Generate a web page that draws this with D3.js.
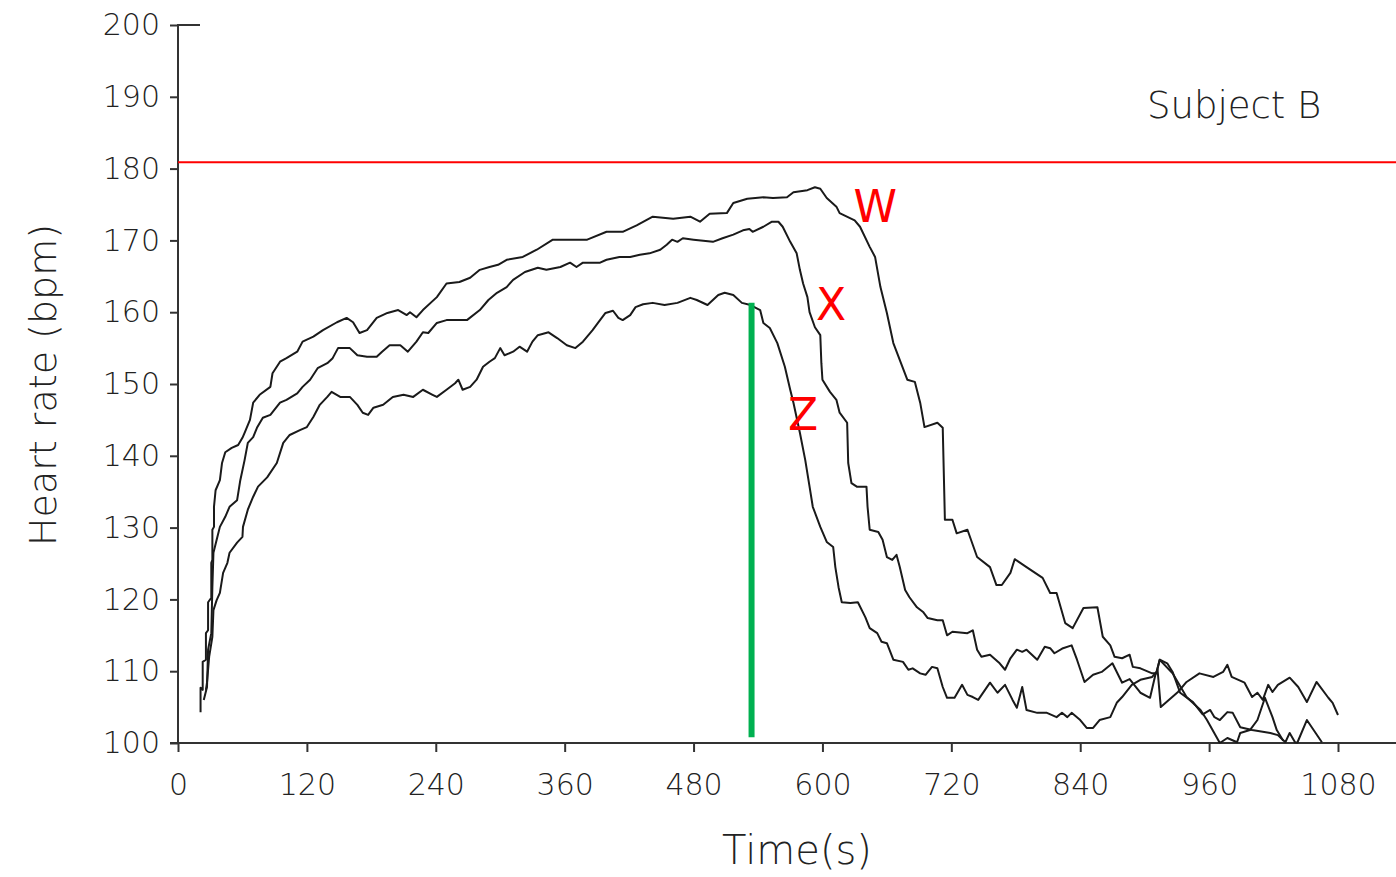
<!DOCTYPE html>
<html><head><meta charset="utf-8">
<script src="https://cdn.jsdelivr.net/npm/d3@7"></script>
<style>
html,body{margin:0;padding:0;background:#fff;}
svg{display:block;}
text{font-family:"DejaVu Sans",sans-serif;fill:#222;}
</style></head>
<body>
<svg id="chart" width="1396" height="877"></svg>
<script>
// ---- data (time s, heart rate bpm) ----
const xTicks = [0,120,240,360,480,600,720,840,960,1080];
const yTicks = [100,110,120,130,140,150,160,170,180,190,200];
const maxHR = 180.9;
const stopTime = 534, stopHR = 161.3, stopLow = 100.8;
const seriesNames = ["W","X","Z"];

const seriesW = [[21,104.3],[21,107.7],[23,107.4],[23,111.3],[26,111.6],[26,115.3],[28,115.7],[28,119.6],[31,120.2],[31,125.1],[32,125.5],[32,129.7],[33.5,130.1],[33.5,132.9],[35,135.2],[39,136.6],[41,139.0],[44,140.5],[50,141.1],[56,141.5],[60,142.5],[62,143.2],[67,145.0],[70,147.4],[76,148.5],[86,149.6],[88,151.5],[95,153.1],[101,153.6],[111,154.5],[116,155.9],[126,156.6],[135,157.5],[148,158.6],[157,159.2],[163,158.6],[169,157.1],[176,157.5],[185,159.2],[195,159.9],[205,160.3],[213,159.6],[216,160.0],[222,159.3],[228,160.3],[241,162.1],[250,164.0],[262,164.2],[272,164.8],[281,165.9],[290,166.3],[298,166.6],[306,167.3],[321,167.7],[334,168.7],[349,170.1],[381,170.1],[399,171.2],[414,171.2],[427,172.1],[442,173.3],[461,173.0],[477,173.3],[486,172.6],[495,173.7],[511,173.8],[517,175.2],[530,175.8],[545,176.0],[554,175.9],[567,176.0],[573,176.7],[586,177.0],[593,177.4],[598,177.2],[604,175.9],[613,174.7],[616,173.8],[630,172.8],[635,171.9],[644,169.1],[649,167.7],[654,163.5],[660,159.9],[666,155.7],[679,150.6],[686,150.3],[691,147.4],[695,144.0],[707,144.6],[712,143.9],[714,131.1],[721,131.1],[725,129.2],[735,129.7],[744,125.9],[756,124.5],[762,122.0],[767,122.0],[775,123.7],[779,125.6],[790,124.5],[805,123.0],[812,120.9],[818,120.9],[826,116.7],[833,116.0],[843,118.8],[856,118.9],[861,114.8],[868,113.6],[872,112.0],[879,111.8],[886,112.3],[889,110.6],[896,110.4],[907,109.7],[911,109.7],[914,111.6],[921,111.1],[926,109.9],[933,107.0],[945,105.7],[954,104.0],[961,104.6],[965,103.6],[970,103.2],[977,104.3],[982,104.2],[989,102.2],[1000,101.8],[1017,101.4],[1024,101.1],[1031,100.1],[1035,101.4],[1040,100.1],[1042,100.0],[1051,103.2],[1065,100.1]];

const seriesX = [[24,106.0],[27,107.8],[28,113.0],[31,115.3],[32,121.7],[33,126.5],[36,128.3],[39,130.1],[44,131.5],[48,132.9],[55,133.8],[58,136.6],[62,139.4],[65,141.8],[70,142.6],[73.5,143.9],[79,145.3],[86,145.7],[95,147.4],[101,147.8],[111,148.7],[116,149.6],[123,150.6],[130,152.2],[139,152.9],[144,153.6],[149,155.0],[160,155.0],[167,154.0],[176,153.8],[185,153.8],[190,154.5],[197,155.4],[207,155.4],[214,154.5],[222,155.9],[228,157.2],[233,157.1],[241,158.5],[250,158.9],[269,158.9],[281,160.3],[289,161.7],[297,162.7],[306,163.5],[312,164.5],[323,165.6],[335,166.2],[343,165.9],[356,166.3],[365,166.9],[371,166.3],[377,166.9],[393,166.9],[399,167.3],[411,167.7],[421,167.7],[430,168.0],[439,168.2],[449,168.7],[455,169.4],[460,170.1],[465,169.8],[470,170.3],[480,170.1],[498,169.8],[507,170.3],[517,170.8],[526,171.4],[532,171.6],[535,171.2],[545,171.9],[553,172.6],[559,172.6],[563,171.9],[570,169.8],[576,168.2],[579,165.9],[582,164.0],[586,162.1],[588,160.0],[593,157.9],[598,156.8],[599,152.9],[600,150.6],[607,148.9],[613,147.8],[616,146.0],[623,144.6],[624,139.0],[627,136.2],[632,135.7],[641,135.7],[642,132.9],[644,129.7],[652,129.4],[656,128.3],[660,125.9],[665,125.5],[669,126.2],[672,124.5],[677,121.3],[681,120.3],[688,118.9],[694,118.2],[698,117.4],[707,117.1],[712,117.1],[716,115.0],[721,115.5],[735,115.3],[740,115.7],[744,113.0],[748,112.0],[756,112.3],[765,111.1],[770,110.2],[775,111.8],[781,113.0],[786,112.7],[790,113.0],[800,111.6],[807,113.4],[812,113.2],[816,112.5],[824,113.2],[832,113.6],[837,111.6],[844,108.5],[852,109.5],[860,109.9],[870,111.1],[879,108.4],[886,108.9],[896,107.0],[905,106.3],[910,109.5],[912,110.2],[915,105.0],[931,107.1],[939,108.5],[951,109.7],[964,109.2],[973,109.9],[977,110.9],[981,109.2],[993,108.4],[1000,106.4],[1005,107.0],[1010,106.0],[1015,108.1],[1019,107.1],[1024,108.1],[1035,109.1],[1043,107.8],[1051,105.7],[1060,108.5],[1071,106.3],[1075,105.6],[1080,103.9]];

const seriesZ = [[26,107.4],[27,108.4],[29,112.0],[32,114.8],[33,118.5],[36,119.9],[39,120.9],[42,123.7],[46,125.1],[48,126.5],[55,127.9],[60,128.7],[60.5,130.1],[65,132.5],[70,134.3],[74.5,135.7],[83,137.0],[92,139.0],[98,141.8],[104,142.9],[114,143.6],[120,144.0],[126,145.4],[132,147.1],[139,148.2],[143,148.9],[151,148.2],[160,148.2],[167,147.1],[172,146.0],[177,145.7],[182,146.7],[191,147.1],[200,148.2],[210,148.5],[219,148.2],[228,149.2],[237,148.5],[241,148.2],[250,149.2],[258,150.1],[261,150.6],[265,149.2],[272,149.6],[278,150.6],[284,152.4],[290,153.1],[295,153.6],[300,155.0],[304,154.0],[312,154.5],[318,155.2],[325,154.5],[330,155.9],[335,156.8],[345,157.2],[353,156.4],[362,155.4],[370,155.0],[377,155.9],[386,157.5],[391,158.5],[398,159.9],[405,160.2],[410,159.2],[414,158.9],[421,159.6],[426,160.7],[433,161.1],[442,161.3],[453,161.0],[465,161.3],[477,162.0],[483,161.7],[493,161.0],[498,161.7],[503,162.4],[509,162.7],[517,162.4],[525,161.3],[533,161.0],[542,160.3],[545,158.5],[551,157.8],[558,155.7],[565,152.4],[570,149.2],[573,147.4],[579,143.2],[584,139.4],[588,135.7],[591,132.9],[598,130.1],[604,128.0],[610,127.3],[612,124.5],[615,121.7],[618,119.6],[626,119.5],[633,119.6],[640,117.5],[644,116.0],[651,115.3],[655,114.1],[660,113.9],[666,111.6],[675,111.3],[680,110.2],[684,110.4],[691,109.7],[696,109.5],[702,110.6],[707,110.4],[712,107.8],[716,106.3],[723,106.3],[730,108.1],[735,106.7],[740,106.4],[745,106.0],[756,108.4],[763,107.0],[770,108.1],[777,106.0],[781,104.9],[786,107.8],[790,104.6],[800,104.2],[809,104.2],[818,103.6],[823,104.2],[828,103.6],[832,104.2],[840,103.2],[846,102.1],[852,102.1],[858,103.2],[868,103.6],[874,105.6],[879,106.4],[888,108.1],[896,108.8],[907,109.2],[911,109.9],[914,111.6],[926,109.7],[939,106.4],[952,104.6],[958,103.2],[970,100.0],[977,100.7],[986,100.1],[989,101.4],[998,101.8],[1005,103.2],[1012,106.3],[1019,103.6],[1023,101.8],[1029,100.3]];

const labels = [
  {name:"W", t:629, hr:172.6},
  {name:"X", t:594, hr:158.9},
  {name:"Z", t:568, hr:143.6}
];

// ---- drawing ----
const svg = d3.select("#chart");
const x = d3.scaleLinear().domain([0,1080]).range([178,1338]);
const y = d3.scaleLinear().domain([100,200]).range([743,25]);
const axisColor = "#333";

// clip
svg.append("defs").append("clipPath").attr("id","plot")
  .append("rect").attr("x",178).attr("y",25).attr("width",1396-178).attr("height",743-25+0.5);

// y axis
const yAxis = d3.axisLeft(y).tickValues(yTicks).tickSize(8).tickPadding(10).tickFormat(d3.format("d"));
const gy = svg.append("g").attr("transform","translate(178,0)").call(yAxis);
gy.select(".domain").remove();
gy.selectAll(".tick line").attr("stroke",axisColor).attr("stroke-width",2);
gy.selectAll(".tick text").attr("font-size",30).attr("font-weight",200)
  .attr("fill","#222").attr("font-family","DejaVu Sans").attr("x",-18);
svg.append("line").attr("x1",178).attr("x2",178).attr("y1",y(200)-1).attr("y2",y(100))
  .attr("stroke",axisColor).attr("stroke-width",2);
svg.append("line").attr("x1",178).attr("x2",200).attr("y1",y(200)).attr("y2",y(200))
  .attr("stroke",axisColor).attr("stroke-width",2);

// x axis
const xAxis = d3.axisBottom(x).tickValues(xTicks).tickSize(9).tickPadding(10).tickFormat(d3.format("d"));
const gx = svg.append("g").attr("transform","translate(0,743)").call(xAxis);
gx.select(".domain").remove();
gx.selectAll(".tick line").attr("stroke",axisColor).attr("stroke-width",2);
gx.selectAll(".tick text").attr("font-size",30).attr("font-weight",200)
  .attr("fill","#222").attr("font-family","DejaVu Sans").attr("dy","0.71em").attr("y",31);
svg.append("line").attr("x1",170).attr("x2",1396).attr("y1",743).attr("y2",743)
  .attr("stroke",axisColor).attr("stroke-width",2);

// axis titles
svg.append("text").attr("transform",`translate(56,${385}) rotate(-90)`)
  .attr("text-anchor","middle").attr("font-size",38).attr("font-weight",200)
  .text("Heart rate (bpm)");
svg.append("text").attr("x",797).attr("y",864).attr("text-anchor","middle")
  .attr("font-size",40).attr("font-weight",200).text("Time(s)");
svg.append("text").attr("x",1147).attr("y",118).attr("font-size",37).attr("font-weight",200)
  .text("Subject B");

// max HR line
svg.append("line").attr("x1",x(0)).attr("x2",1396).attr("y1",y(maxHR)).attr("y2",y(maxHR))
  .attr("stroke","#ff0000").attr("stroke-width",2);

// series
const line = d3.line().x(d=>x(d[0])).y(d=>y(d[1]));
const plot = svg.append("g").attr("clip-path","url(#plot)");
[seriesW, seriesX, seriesZ].forEach(s=>{
  plot.append("path").datum(s).attr("d",line).attr("fill","none")
    .attr("stroke","#1a1a1a").attr("stroke-width",2).attr("stroke-linejoin","round");
});

// stop marker
svg.append("line").attr("x1",x(stopTime)).attr("x2",x(stopTime))
  .attr("y1",y(stopHR)).attr("y2",y(stopLow))
  .attr("stroke","#00b050").attr("stroke-width",6);

// series labels
svg.selectAll("text.lab").data(labels).enter().append("text").attr("class","lab")
  .attr("x",d=>x(d.t)).attr("y",d=>y(d.hr))
  .attr("font-family","Liberation Sans, Arial, sans-serif").attr("font-size",44)
  .style("fill","#ff0000").text(d=>d.name);
</script>
</body></html>
